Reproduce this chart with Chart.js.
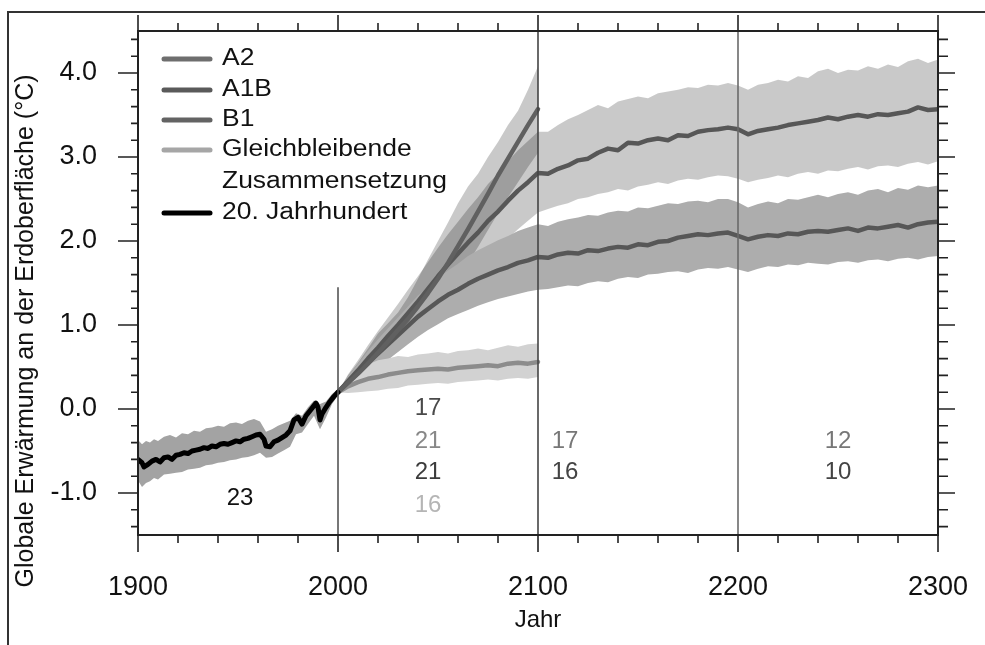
<!DOCTYPE html>
<html><head><meta charset="utf-8">
<script src="https://cdn.jsdelivr.net/npm/chart.js@4/dist/chart.umd.min.js"></script>
<style>html,body{margin:0;padding:0;background:#fff}#wrap{width:985px;height:645px;position:relative}</style>
</head><body><div id="wrap"><canvas id="c" width="985" height="645"></canvas></div>
<script>
// ---------- DATA ----------
const yearsHist = [1900,1902,1903,1905,1907,1909,1911,1913,1915,1917,1919,1921,1923,1925,1927,1929,1931,1933,1935,1937,1939,1941,1943,1945,1947,1949,1951,1953,1955,1957,1959,1961,1963,1964,1966,1968,1970,1972,1974,1976,1978,1980,1982,1984,1986,1988,1989,1990,1991,1992,1994,1996,1998,2000];
const tempHist = [-0.60,-0.64,-0.69,-0.66,-0.62,-0.60,-0.63,-0.58,-0.57,-0.60,-0.55,-0.54,-0.52,-0.53,-0.50,-0.49,-0.48,-0.46,-0.47,-0.44,-0.45,-0.42,-0.41,-0.42,-0.40,-0.38,-0.39,-0.36,-0.35,-0.33,-0.31,-0.30,-0.36,-0.44,-0.45,-0.39,-0.37,-0.34,-0.31,-0.26,-0.13,-0.10,-0.18,-0.08,-0.02,0.04,0.07,0.02,-0.13,-0.06,0.02,0.09,0.15,0.20];
const yearsHistBand = [1900,1902,1904,1906,1908,1910,1913,1916,1919,1922,1925,1928,1931,1934,1937,1940,1943,1946,1949,1952,1955,1958,1961,1964,1967,1970,1973,1976,1979,1982,1985,1988,1991,1994,1997,2000];
const histUpper = [-0.37,-0.42,-0.38,-0.40,-0.36,-0.38,-0.33,-0.31,-0.34,-0.29,-0.30,-0.26,-0.27,-0.23,-0.22,-0.20,-0.21,-0.17,-0.16,-0.18,-0.14,-0.12,-0.15,-0.27,-0.24,-0.20,-0.17,-0.14,-0.05,-0.08,0.02,0.10,0.06,0.09,0.18,0.24];
const histLower = [-0.85,-0.93,-0.88,-0.86,-0.82,-0.84,-0.78,-0.77,-0.76,-0.75,-0.72,-0.71,-0.70,-0.67,-0.66,-0.64,-0.63,-0.61,-0.60,-0.58,-0.57,-0.55,-0.52,-0.58,-0.57,-0.53,-0.49,-0.45,-0.30,-0.28,-0.18,-0.08,-0.24,-0.10,0.06,0.16];

const years2100 = [2000,2005,2010,2015,2020,2025,2030,2035,2040,2045,2050,2055,2060,2065,2070,2075,2080,2085,2090,2095,2100];
const years2300 = [2000,2005,2010,2015,2020,2025,2030,2035,2040,2045,2050,2055,2060,2065,2070,2075,2080,2085,2090,2095,2100,
  2105,2110,2115,2120,2125,2130,2135,2140,2145,2150,2155,2160,2165,2170,2175,2180,2185,2190,2195,2200,
  2205,2210,2215,2220,2225,2230,2235,2240,2245,2250,2255,2260,2265,2270,2275,2280,2285,2290,2295,2300];

const a2 = [0.20,0.31,0.42,0.54,0.67,0.80,0.94,1.07,1.22,1.38,1.55,1.74,1.94,2.14,2.35,2.56,2.78,2.98,3.18,3.38,3.57];
const a2Upper = [0.20,0.40,0.55,0.72,0.90,1.02,1.15,1.33,1.55,1.78,2.00,2.22,2.45,2.65,2.80,3.00,3.18,3.38,3.55,3.80,4.08];
const a2Lower = [0.20,0.24,0.31,0.39,0.48,0.58,0.69,0.79,0.92,1.06,1.21,1.38,1.56,1.74,1.93,2.13,2.33,2.52,2.70,2.88,3.05];

const a1b = [0.20,0.33,0.46,0.60,0.73,0.87,1.00,1.14,1.28,1.43,1.58,1.72,1.85,1.98,2.10,2.24,2.35,2.48,2.60,2.70,2.81,
  2.80,2.86,2.90,2.96,2.98,3.05,3.10,3.08,3.17,3.16,3.20,3.22,3.20,3.26,3.25,3.30,3.32,3.33,3.35,3.33,
  3.27,3.31,3.33,3.35,3.38,3.40,3.42,3.44,3.47,3.45,3.48,3.50,3.48,3.51,3.50,3.52,3.54,3.59,3.56,3.57];
const a1bUpper = [0.20,0.41,0.58,0.76,0.93,1.09,1.25,1.42,1.58,1.75,1.92,2.08,2.23,2.38,2.52,2.68,2.80,2.95,3.08,3.19,3.30,
  3.30,3.38,3.45,3.50,3.56,3.62,3.58,3.66,3.69,3.72,3.70,3.76,3.78,3.80,3.83,3.82,3.86,3.85,3.88,3.85,
  3.80,3.86,3.88,3.92,3.90,3.96,3.94,4.02,4.05,4.00,4.04,4.03,4.08,4.05,4.10,4.07,4.14,4.17,4.12,4.16];
const a1bLower = [0.20,0.26,0.35,0.45,0.54,0.66,0.76,0.87,0.99,1.12,1.25,1.37,1.48,1.59,1.69,1.81,1.91,2.03,2.14,2.24,2.34,
  2.38,2.42,2.45,2.50,2.52,2.56,2.58,2.62,2.60,2.65,2.67,2.70,2.68,2.72,2.74,2.73,2.76,2.78,2.77,2.74,
  2.70,2.73,2.75,2.78,2.76,2.80,2.82,2.80,2.84,2.83,2.86,2.88,2.85,2.89,2.90,2.88,2.92,2.94,2.91,2.95];

const b1 = [0.20,0.32,0.43,0.55,0.66,0.77,0.88,0.99,1.10,1.19,1.28,1.36,1.42,1.49,1.55,1.60,1.65,1.69,1.74,1.77,1.81,
  1.80,1.84,1.86,1.85,1.89,1.88,1.91,1.93,1.92,1.96,1.95,1.99,2.00,2.04,2.06,2.08,2.07,2.09,2.10,2.06,
  2.02,2.05,2.07,2.06,2.09,2.08,2.11,2.12,2.11,2.13,2.15,2.12,2.16,2.15,2.17,2.19,2.16,2.20,2.22,2.23];
const b1Upper = [0.20,0.39,0.54,0.69,0.83,0.96,1.09,1.22,1.35,1.45,1.56,1.65,1.73,1.82,1.89,1.95,2.01,2.06,2.12,2.16,2.20,
  2.18,2.23,2.26,2.28,2.31,2.30,2.34,2.36,2.35,2.40,2.39,2.42,2.45,2.44,2.47,2.48,2.46,2.50,2.50,2.46,
  2.40,2.44,2.47,2.45,2.50,2.49,2.52,2.55,2.52,2.56,2.58,2.55,2.60,2.62,2.58,2.63,2.61,2.66,2.64,2.66];
const b1Lower = [0.20,0.26,0.33,0.42,0.50,0.59,0.68,0.77,0.86,0.94,1.01,1.08,1.13,1.18,1.23,1.27,1.31,1.34,1.37,1.40,1.42,
  1.43,1.45,1.47,1.46,1.50,1.52,1.51,1.55,1.57,1.56,1.60,1.61,1.63,1.64,1.62,1.66,1.68,1.67,1.69,1.66,
  1.63,1.67,1.70,1.69,1.72,1.71,1.74,1.73,1.72,1.75,1.76,1.74,1.77,1.78,1.76,1.79,1.80,1.78,1.81,1.82];

const commit = [0.20,0.27,0.32,0.36,0.38,0.41,0.43,0.45,0.46,0.47,0.48,0.47,0.49,0.50,0.51,0.52,0.51,0.54,0.55,0.54,0.56];
const commitUpper = [0.20,0.36,0.45,0.53,0.58,0.60,0.63,0.62,0.65,0.66,0.68,0.66,0.69,0.70,0.72,0.70,0.73,0.76,0.74,0.77,0.78];
const commitLower = [0.20,0.19,0.20,0.21,0.22,0.24,0.25,0.28,0.29,0.30,0.31,0.30,0.32,0.33,0.34,0.35,0.34,0.36,0.37,0.36,0.38];

const xTickValues = [1900,2000,2100,2200,2300];
const yTickValues = [-1,0,1,2,3,4];
const seriesNames = ['A2','A1B','B1',['Gleichbleibende','Zusammensetzung'],'20. Jahrhundert'];
const modelCounts = ['23','17','21','21','16','17','16','12','10'];
const xTitle = 'Jahr';
const yTitle = 'Globale Erwärmung an der Erdoberfläche (°C)';

// ---------- CHART ----------
const pts = (xs, ys) => xs.map((x, i) => ({x: x, y: ys[i]}));
const FONT = "'Liberation Sans', Arial, Helvetica, sans-serif";

function lineDs(label, xs, ys, color, order, w) {
  return {label, data: pts(xs, ys), borderColor: color, borderWidth: w || 4.5, pointRadius: 0,
    fill: false, tension: 0, order, borderJoinStyle: 'round', borderCapStyle: 'round'};
}
function bandDs(label, xs, ys, color, order, fill) {
  return {label, data: pts(xs, ys), borderWidth: 0, borderColor: 'rgba(0,0,0,0)', backgroundColor: color,
    pointRadius: 0, fill: fill, tension: 0, order};
}

const datasets = [
  lineDs('A2', years2100, a2, '#606060', 1),
  lineDs('A1B', years2300, a1b, '#575757', 1),
  lineDs('B1', years2300, b1, '#575757', 1),
  lineDs('Gleichbleibende Zusammensetzung', years2100, commit, '#8c8c8c', 1),
  lineDs('20. Jahrhundert', yearsHist, tempHist, '#000000', 0, 5),
  bandDs('A2 oben', years2100, a2Upper, 'rgba(0,0,0,0.21)', 13, '+1'),
  bandDs('A2 unten', years2100, a2Lower, 'rgba(0,0,0,0)', 13, false),
  bandDs('A1B oben', years2300, a1bUpper, 'rgba(0,0,0,0.21)', 12, '+1'),
  bandDs('A1B unten', years2300, a1bLower, 'rgba(0,0,0,0)', 12, false),
  bandDs('B1 oben', years2300, b1Upper, '#adadad', 11, '+1'),
  bandDs('B1 unten', years2300, b1Lower, 'rgba(0,0,0,0)', 11, false),
  bandDs('GZ oben', years2100, commitUpper, '#d2d2d2', 10, '+1'),
  bandDs('GZ unten', years2100, commitLower, 'rgba(0,0,0,0)', 10, false),
  bandDs('20J oben', yearsHistBand, histUpper, '#a3a3a3', 14, '+1'),
  bandDs('20J unten', yearsHistBand, histLower, 'rgba(0,0,0,0)', 14, false)
];

const decor = {
  id: 'decor',
  beforeDraw(chart) {
    const ctx = chart.ctx;
    ctx.save(); ctx.fillStyle = '#fff'; ctx.fillRect(0, 0, chart.width, chart.height); ctx.restore();
  },
  afterDraw(chart) {
    const {ctx, chartArea: a, scales: {x, y}} = chart;
    ctx.save();
    // vertical separators
    ctx.lineWidth = 1.6;
    ctx.strokeStyle = '#555';
    ctx.beginPath(); ctx.moveTo(x.getPixelForValue(2000), y.getPixelForValue(1.45)); ctx.lineTo(x.getPixelForValue(2000), a.bottom); ctx.stroke();
    ctx.strokeStyle = '#444';
    ctx.beginPath(); ctx.moveTo(x.getPixelForValue(2100), a.top); ctx.lineTo(x.getPixelForValue(2100), a.bottom); ctx.stroke();
    ctx.strokeStyle = '#6a6a6a';
    ctx.beginPath(); ctx.moveTo(x.getPixelForValue(2200), a.top); ctx.lineTo(x.getPixelForValue(2200), a.bottom); ctx.stroke();

    // frame
    ctx.strokeStyle = '#222'; ctx.lineWidth = 2;
    ctx.strokeRect(a.left, a.top, a.right - a.left, a.bottom - a.top);

    // ticks
    ctx.lineWidth = 1.6; ctx.strokeStyle = '#222';
    ctx.beginPath();
    for (let v = 1900; v <= 2300; v += 20) {
      const px = x.getPixelForValue(v);
      const major = xTickValues.includes(v);
      ctx.moveTo(px, a.bottom); ctx.lineTo(px, a.bottom + (major ? 17 : 8));
      ctx.moveTo(px, a.top); ctx.lineTo(px, a.top - (major ? 16 : 8));
    }
    for (let k = -7; k <= 22; k++) {
      const v = k / 5;
      const py = y.getPixelForValue(v);
      const major = k % 5 === 0;
      ctx.moveTo(a.left, py); ctx.lineTo(a.left - (major ? 20 : 7), py);
      ctx.moveTo(a.right, py); ctx.lineTo(a.right + (major ? 17 : 10), py);
    }
    ctx.stroke();

    // model counts
    const countPos = [
      [1951, -1.06, '#111'],
      [2045, 0.01, '#4a4a4a'], [2045, -0.38, '#888'], [2045, -0.75, '#3c3c3c'], [2045, -1.15, '#b5b5b5'],
      [2113.5, -0.38, '#777'], [2113.5, -0.76, '#444'],
      [2250, -0.38, '#777'], [2250, -0.76, '#444']
    ];
    ctx.font = '24px ' + FONT; ctx.textAlign = 'center'; ctx.textBaseline = 'middle';
    modelCounts.forEach((t, i) => {
      const p = countPos[i];
      ctx.fillStyle = p[2];
      ctx.fillText(t, x.getPixelForValue(p[0]), y.getPixelForValue(p[1]));
    });

    // legend
    const legColors = ['#6e6e6e', '#5a5a5a', '#636363', '#a6a6a6', '#000'];
    const legY = [28, 59, 89, 119, 182];
    ctx.lineCap = 'round'; ctx.lineWidth = 5;
    ctx.textAlign = 'left'; ctx.textBaseline = 'middle';
    ctx.font = '23px ' + FONT;
    seriesNames.forEach((name, i) => {
      const yy = a.top + legY[i];
      ctx.strokeStyle = legColors[i];
      ctx.beginPath(); ctx.moveTo(a.left + 26, yy); ctx.lineTo(a.left + 72, yy); ctx.stroke();
      const lines = Array.isArray(name) ? name : [name];
      ctx.fillStyle = '#111';
      lines.forEach((ln, j) => {
        ctx.save();
        ctx.translate(a.left + 84, yy + j * 32);
        ctx.scale(1.15, 1);
        ctx.fillText(ln, 0, 0);
        ctx.restore();
      });
    });

    // y axis title
    ctx.save();
    ctx.translate(33, 331);
    ctx.rotate(-Math.PI / 2);
    ctx.font = '25px ' + FONT; ctx.fillStyle = '#111';
    ctx.textAlign = 'center'; ctx.textBaseline = 'alphabetic';
    ctx.fillText(yTitle, 0, 0);
    ctx.restore();

    // outer frame of the figure
    ctx.strokeStyle = '#333'; ctx.lineWidth = 2;
    ctx.beginPath(); ctx.moveTo(8, chart.height); ctx.lineTo(8, 12); ctx.lineTo(chart.width, 12); ctx.stroke();
    ctx.restore();
  }
};

new Chart(document.getElementById('c'), {
  type: 'line',
  data: {datasets},
  options: {
    responsive: false, animation: false, devicePixelRatio: 1,
    layout: {padding: {left: 0, top: 31, right: 47, bottom: 0}},
    plugins: {legend: {display: false}, tooltip: {enabled: false}, filler: {propagate: false}},
    scales: {
      x: {
        type: 'linear', min: 1900, max: 2300,
        afterBuildTicks: s => { s.ticks = xTickValues.map(v => ({value: v})); },
        afterFit: s => { s.height = 110; s.paddingLeft = 0; s.paddingRight = 0; s.paddingTop = 0; s.paddingBottom = 0; },
        grid: {display: false, drawTicks: false}, border: {display: false},
        ticks: {font: {family: FONT, size: 27}, color: '#111', padding: 36, maxRotation: 0, autoSkip: false,
          callback: v => String(v)},
        title: {display: true, text: xTitle, font: {family: FONT, size: 24}, color: '#111', padding: {top: 0, bottom: 10}}
      },
      y: {
        type: 'linear', min: -1.5, max: 4.5,
        afterBuildTicks: s => { s.ticks = yTickValues.map(v => ({value: v})); },
        afterFit: s => { s.width = 138; s.paddingLeft = 0; s.paddingRight = 0; s.paddingTop = 0; s.paddingBottom = 0; },
        grid: {display: false, drawTicks: false}, border: {display: false},
        ticks: {font: {family: FONT, size: 27}, color: '#111', padding: 41, autoSkip: false,
          callback: v => Number(v).toFixed(1)}
      }
    }
  },
  plugins: [decor]
});
</script>
</body></html>
